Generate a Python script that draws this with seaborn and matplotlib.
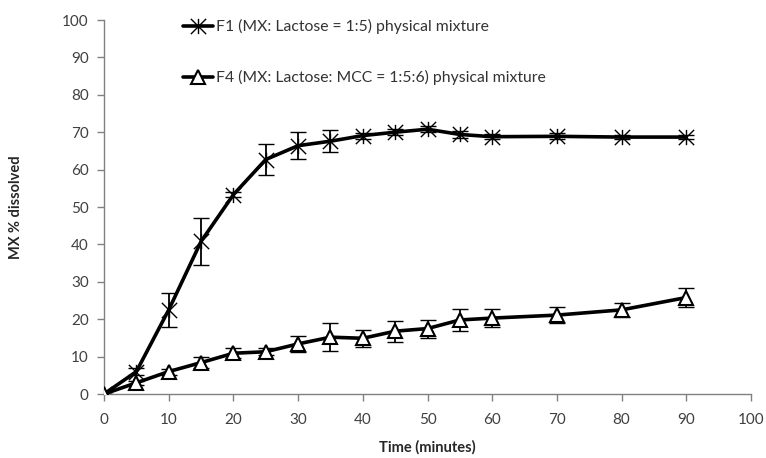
import numpy as np
import pandas as pd
import seaborn as sns
import matplotlib.pyplot as plt
from matplotlib.path import Path
from matplotlib.lines import Line2D

# dissolution data
time = [0, 5, 10, 15, 20, 25, 30, 35, 40, 45, 50, 55, 60, 70, 80, 90]
f1_mean = [0, 6.0, 22.5, 40.8, 53.3, 62.7, 66.4, 67.6, 69.1, 70.0, 70.8, 69.4, 68.8, 68.9, 68.7, 68.7]
f1_err = [0, 1.0, 4.6, 6.2, 0.6, 4.2, 3.6, 3.0, 0.8, 0.8, 0.8, 1.0, 0.6, 0.8, 0.6, 0.6]
f4_mean = [0, 3.0, 6.0, 8.4, 10.9, 11.3, 13.4, 15.2, 14.9, 16.8, 17.5, 19.8, 20.3, 21.1, 22.5, 25.8]
f4_err = [0, 0.6, 0.8, 1.5, 1.3, 1.0, 2.1, 3.7, 2.3, 2.8, 2.4, 3.0, 2.3, 2.2, 1.8, 2.6]

labels = ["F1 (MX: Lactose = 1:5) physical mixture",
          "F4 (MX: Lactose: MCC = 1:5:6) physical mixture"]

df = pd.DataFrame({
    "time": time + time,
    "value": f1_mean + f4_mean,
    "series": [labels[0]] * len(time) + [labels[1]] * len(time),
})

sns.set_style("white")
plt.rcParams['font.family'] = ['Lato', 'DejaVu Sans']

# star marker: X with a vertical bar through it
star = Path([(-1, -1), (1, 1), (-1, 1), (1, -1), (0, -1), (0, 1)],
            [Path.MOVETO, Path.LINETO, Path.MOVETO, Path.LINETO, Path.MOVETO, Path.LINETO])

fig = plt.figure(figsize=(7.66, 4.58), dpi=100)
ax = fig.add_axes([0.1358, 0.1397, 0.8446, 0.8166])

ax.errorbar(time, f1_mean, yerr=f1_err, fmt='none', ecolor='black', elinewidth=1.3, capsize=4, capthick=1.3, zorder=2)
ax.errorbar(time, f4_mean, yerr=f4_err, fmt='none', ecolor='black', elinewidth=1.3, capsize=4, capthick=1.3, zorder=2)

sns.lineplot(data=df, x="time", y="value", hue="series", style="series",
             palette=["black", "black"], markers={labels[0]: star, labels[1]: '^'},
             dashes=False, linewidth=2.6, markersize=10, legend=False, ax=ax, zorder=3)

# make triangles white-filled, star strokes black
for ln in ax.get_lines():
    if ln.get_marker() == '^':
        ln.set_markerfacecolor('white')
        ln.set_markeredgecolor('black')
        ln.set_markeredgewidth(1.5)
    else:
        ln.set_markeredgecolor('black')
        ln.set_markeredgewidth(1.0)
        ln.set_markersize(11)

ax.set_xlim(0, 100)
ax.set_ylim(0, 100)
ax.set_xticks(range(0, 101, 10))
ax.set_yticks(range(0, 101, 10))
for s in ['top', 'right']:
    ax.spines[s].set_visible(False)
for s in ['left', 'bottom']:
    ax.spines[s].set_color('#808080')
    ax.spines[s].set_linewidth(1)
ax.tick_params(axis='both', direction='out', length=5, width=1, color='#808080',
               labelsize=11, labelcolor='#404040', pad=6, left=True, bottom=True)
ax.xaxis.set_tick_params(pad=9)

ax.set_xlabel("Time (minutes)", fontsize=10.5, fontweight='bold', labelpad=9)
ax.set_ylabel("MX % dissolved", fontsize=10.5, fontweight='bold', labelpad=28)

handles = [
    Line2D([], [], color='black', lw=2.6, marker=star, markersize=11, markeredgewidth=1.0),
    Line2D([], [], color='black', lw=2.6, marker='^', markersize=10,
           markerfacecolor='white', markeredgecolor='black', markeredgewidth=1.5),
]
ax.legend(handles, labels, loc='upper left', bbox_to_anchor=(0.1, 1.04), frameon=False,
          fontsize=11.3, labelspacing=2.3, handlelength=1.9, handletextpad=0.2,
          labelcolor='#333333')

fig.savefig("out.png", dpi=100)
